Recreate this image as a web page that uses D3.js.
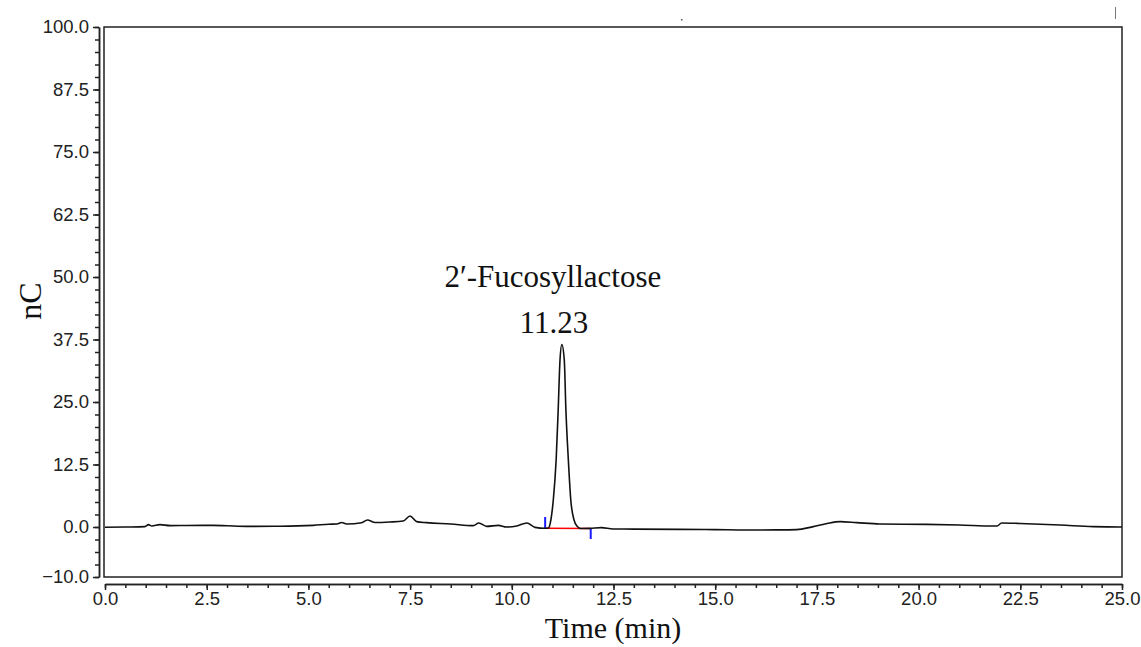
<!DOCTYPE html>
<html>
<head>
<meta charset="utf-8">
<script src="https://cdn.jsdelivr.net/npm/d3@7"></script>
<style>
  body { margin: 0; background: #fff; }
</style>
</head>
<body>
<div id="chart"></div>
<script>
// datos del cromatograma
const times = [0, 0.5, 0.98, 1.07, 1.15, 1.35, 1.6, 2.0, 2.66, 3.0, 3.48, 4.3, 5.12, 5.5, 5.7, 5.82, 5.94, 6.31, 6.45, 6.64, 7.0, 7.33, 7.5, 7.66, 7.91, 8.5, 9.05, 9.19, 9.38, 9.67, 9.87, 10.12, 10.37, 10.57, 10.82, 10.9, 10.96, 11.02, 11.09, 11.14, 11.185, 11.23, 11.29, 11.33, 11.39, 11.45, 11.53, 11.6, 11.7, 11.92, 12.2, 12.49, 13.0, 14.13, 15.0, 15.77, 16.5, 17.0, 17.41, 17.75, 18.07, 18.48, 19.05, 20.2, 21.0, 21.84, 21.93, 22.04, 22.5, 23.48, 24.29, 24.95, 25];
const signal = [-0.05, 0.0, 0.07, 0.47, 0.2, 0.47, 0.27, 0.3, 0.33, 0.25, 0.13, 0.15, 0.33, 0.55, 0.6, 0.9, 0.6, 0.85, 1.4, 0.9, 1.0, 1.2, 2.2, 1.07, 0.87, 0.6, 0.27, 0.8, 0.13, 0.33, 0.0, 0.2, 0.8, -0.07, -0.25, -0.2, 1.4, 5.4, 13.4, 23.4, 33.4, 36.5, 33.4, 23.4, 13.4, 5.4, 1.4, 0.2, -0.3, -0.27, -0.13, -0.4, -0.42, -0.47, -0.52, -0.6, -0.58, -0.53, 0.07, 0.7, 1.07, 0.87, 0.6, 0.53, 0.4, 0.2, 0.2, 0.8, 0.7, 0.4, 0.07, 0.0, 0.0];

// integracion del pico
const peakName = "2\u2032-Fucosyllactose";
const peakTime = 11.23;
const peakHeight = 36.5;
const baseStart = [10.82, -0.25];
const baseEnd = [11.94, -0.28];
const markStartTop = 2.0;
const markEndBottom = -2.4;

// ticks
const yMajorTicks = [-10, 0, 12.5, 25, 37.5, 50, 62.5, 75, 87.5, 100];
const yMinorTicks = d3.range(-10, 100.01, 2.5);
const xMajorTicks = d3.range(0, 25.01, 2.5);
const xMinorTicks = d3.range(0, 25.01, 0.5);

// ----------------------------------------------------------

const width = 1141;
const height = 647;
const plot = { left: 104, right: 1122, top: 27, bottom: 577 };
const serif = "'Liberation Serif', 'Times New Roman', serif";

const svg = d3.select("#chart").append("svg")
    .attr("width", width)
    .attr("height", height);

const x = d3.scaleLinear().domain([0, 25]).range([105, 1122]);
const y = d3.scaleLinear().domain([-10, 100]).range([577, 27]);

// marco del grafico
svg.append("rect")
    .attr("x", plot.left)
    .attr("y", plot.top)
    .attr("width", plot.right - plot.left)
    .attr("height", plot.bottom - plot.top)
    .attr("fill", "none")
    .attr("stroke", "#222")
    .attr("stroke-width", 1.5);

function styleAxis(g) {
    g.attr("font-family", "'Liberation Sans', Arial, sans-serif");
    g.selectAll(".domain, .tick line").attr("stroke", "#222").attr("stroke-width", 1.5);
    g.selectAll(".tick text").attr("fill", "#222").style("font-size", "18.5px");
}

// eje Y
svg.append("g").attr("transform", "translate(99,0)")
    .call(d3.axisLeft(y).tickValues(yMinorTicks).tickSize(4).tickSizeOuter(0).tickFormat(""))
    .call(styleAxis);
svg.append("g").attr("transform", "translate(99,0)")
    .call(d3.axisLeft(y).tickValues(yMajorTicks).tickSize(6).tickSizeOuter(0).tickPadding(4).tickFormat(d3.format(".1f")))
    .call(styleAxis);

// eje X
svg.append("g").attr("transform", "translate(0,584)")
    .call(d3.axisBottom(x).tickValues(xMinorTicks).tickSize(4).tickSizeOuter(0).tickFormat(""))
    .call(styleAxis);
svg.append("g").attr("transform", "translate(0,584)")
    .call(d3.axisBottom(x).tickValues(xMajorTicks).tickSize(6).tickSizeOuter(0).tickPadding(2).tickFormat(d3.format(".1f")))
    .call(styleAxis);

// titulos
svg.append("text")
    .attr("transform", "translate(41,301) rotate(-90)")
    .attr("text-anchor", "middle")
    .attr("font-family", serif)
    .attr("font-size", 32)
    .attr("fill", "#111")
    .text("nC");

svg.append("text")
    .attr("x", 613)
    .attr("y", 638)
    .attr("text-anchor", "middle")
    .attr("font-family", serif)
    .attr("font-size", 30)
    .attr("fill", "#111")
    .text("Time (min)");

// linea base del pico
svg.append("line")
    .attr("x1", x(baseStart[0])).attr("y1", y(baseStart[1]))
    .attr("x2", x(baseEnd[0])).attr("y2", y(baseEnd[1]))
    .attr("stroke", "#ff0000").attr("stroke-width", 1.5);
svg.append("line")
    .attr("x1", x(baseStart[0])).attr("y1", y(baseStart[1]))
    .attr("x2", x(baseStart[0])).attr("y2", y(markStartTop))
    .attr("stroke", "#1a1aff").attr("stroke-width", 2);
svg.append("line")
    .attr("x1", x(baseEnd[0])).attr("y1", y(baseEnd[1]))
    .attr("x2", x(baseEnd[0])).attr("y2", y(markEndBottom))
    .attr("stroke", "#1a1aff").attr("stroke-width", 2);

// cromatograma
const data = times.map((t, i) => ({ t: t, v: signal[i] }));
svg.append("path")
    .datum(data)
    .attr("fill", "none")
    .attr("stroke", "#111")
    .attr("stroke-width", 1.6)
    .attr("d", d3.line().x(d => x(d.t)).y(d => y(d.v)).curve(d3.curveMonotoneX));

// etiqueta del pico
const labelGroup = svg.append("g")
    .attr("font-family", serif)
    .attr("font-size", 31)
    .attr("fill", "#111")
    .attr("text-anchor", "middle");
labelGroup.append("text")
    .attr("x", x(peakTime) - 9)
    .attr("y", 287)
    .text(peakName);
labelGroup.append("text")
    .attr("x", x(peakTime) - 8)
    .attr("y", y(peakHeight) - 12)
    .text(peakTime.toFixed(2));

// marcas sueltas arriba
svg.append("rect").attr("x", 681).attr("y", 19).attr("width", 1.5).attr("height", 1.5).attr("fill", "#555");
svg.append("line").attr("x1", 1115.5).attr("y1", 7).attr("x2", 1115.5).attr("y2", 19)
    .attr("stroke", "#777").attr("stroke-width", 1);
</script>
</body>
</html>
